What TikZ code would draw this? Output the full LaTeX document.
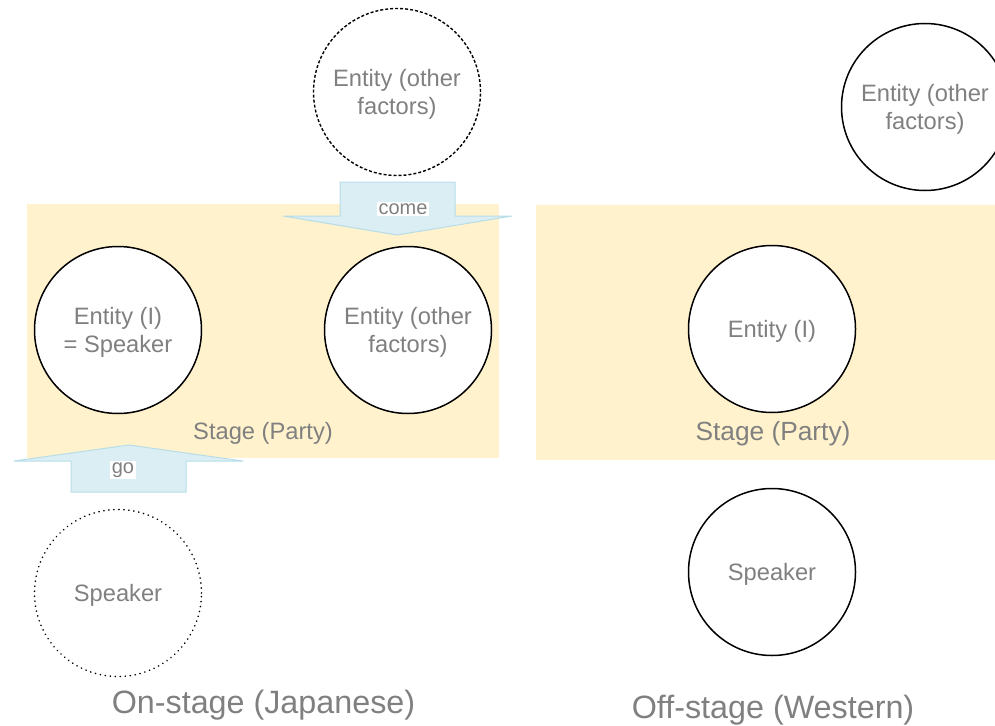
\documentclass[tikz,border=0pt]{standalone}
\usepackage{fontspec}
\setmainfont{Liberation Sans}
\definecolor{stagey}{HTML}{FFF2CC}
\definecolor{arrfill}{HTML}{DAEEF3}
\definecolor{arrline}{HTML}{B7DDE8}
\definecolor{txtgray}{HTML}{808080}
\tikzset{
  circ/.style={circle, draw=black, line width=1.5pt, fill=white, minimum size=167pt, inner sep=0pt},
  dashcirc/.style={circ, line width=1.4pt, dash pattern=on 3pt off 2pt, fill=none},
  dotcirc/.style={circ, line width=1.8pt, dash pattern=on 0.01pt off 5pt, line cap=round, fill=none},
  ctext/.style={align=center, text=txtgray, inner sep=0pt, yshift=-2.5pt, font=\fontsize{23.7}{28}\selectfont},
  stagebox/.style={fill=stagey, draw=none},
  blockarrow/.style={fill=arrfill, draw=arrline, line width=1pt, line join=miter},
  arrlabel/.style={fill=white, text=txtgray, inner sep=2pt, font=\fontsize{20}{22}\selectfont},
  stagelabel/.style={text=txtgray, inner sep=0pt},
  title/.style={text=txtgray, inner sep=0pt, font=\fontsize{32.3}{36}\selectfont}
}
\begin{document}
\begin{tikzpicture}[x=1pt, y=-1pt]
\useasboundingbox (0,0) rectangle (995,725);
% stages
\fill[stagebox] (27,204) rectangle (499,458);
\fill[stagebox] (536,205) rectangle (995,460);
% come arrow
\draw[blockarrow] (340,182) -- (455,182) -- (455,216) -- (512,216) -- (397,235) -- (283,216) -- (340,216) -- cycle;
\node[arrlabel] (come) at (403,209) {come};
% go arrow
\draw[blockarrow] (71,492) -- (71,461) -- (14,461) -- (129,445) -- (243,461) -- (186,461) -- (186,492) -- cycle;
\node[arrlabel] (go) at (123,470) {go};
% left panel circles
\node[dashcirc] (topent) at (397,92) {};
\node[ctext] (topentT) at (topent.center) {Entity (other\\factors)};
\node[circ] (entI) at (118,330) {};
\node[ctext] (entIT) at (entI.center) {Entity (I)\\= Speaker};
\node[circ] (entO) at (408,330) {};
\node[ctext] (entOT) at (entO.center) {Entity (other\\factors)};
\node[dotcirc] (spkL) at (118,593) {};
\node[ctext] (spkLT) at (spkL.center) {Speaker};
\node[stagelabel, font=\fontsize{23.7}{28}\selectfont] (stL) at (263,433) {Stage (Party)};
% right panel circles
\node[circ] (topentR) at (925,107) {};
\node[ctext] (topentRT) at (topentR.center) {Entity (other\\factors)};
\node[circ] (entIR) at (772,329) {};
\node[ctext] (entIRT) at (entIR.center) {Entity (I)};
\node[circ] (spkR) at (772,572) {};
\node[ctext] (spkRT) at (spkR.center) {Speaker};
\node[stagelabel, font=\fontsize{26.3}{30}\selectfont] (stR) at (773,434) {Stage (Party)};
% titles
\node[title] (t1) at (263.5,705) {On-stage (Japanese)};
\node[title] (t2) at (773,710) {Off-stage (Western)};
\end{tikzpicture}
\end{document}
